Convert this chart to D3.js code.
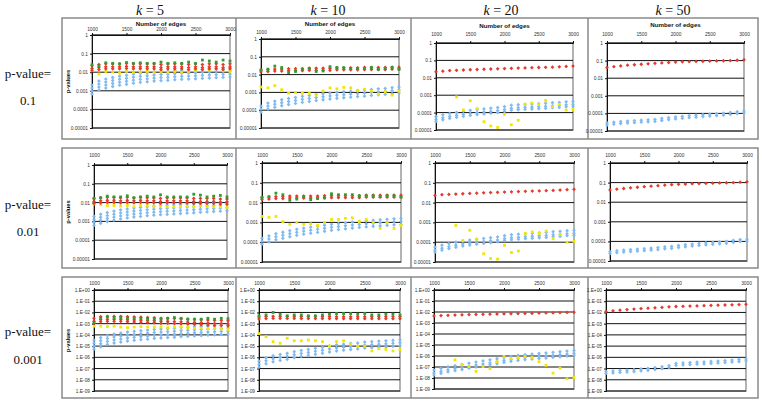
<!DOCTYPE html>
<html><head><meta charset="utf-8">
<script src="https://cdn.jsdelivr.net/npm/d3@7"></script>
<style>body{margin:0;background:#fff}</style>
</head><body><svg id="c" width="762" height="402"></svg>
<script>
// ---------- DATA ----------
const edges=[1000,1100,1200,1300,1400,1500,1600,1700,1800,1900,2000,2100,2200,2300,2400,2500,2600,2700,2800,2900,3000];
const kValues=["5","10","20","50"];
const pValues=["0.1","0.01","0.001"];
const xTickValues=[1000,1500,2000,2500,3000];
const yTickLabelsA=["1","0.1","0.01","0.001","0.0001","0.00001"];
const yTickLabelsB=["1.E+00","1.E-01","1.E-02","1.E-03","1.E-04","1.E-05","1.E-06","1.E-07","1.E-08","1.E-09"];
const xTitle="Number of edges";
const yTitle="p-values";

// p-value = 0.1
const g01_k5=[0.025,0.022,0.032,0.03,0.028,0.033,0.03,0.032,0.03,0.03,0.035,0.03,0.032,0.03,0.035,0.03,0.045,0.04,0.035,0.045,0.04];
const r01_k5=[0.018,0.02,0.022,0.022,0.022,0.023,0.022,0.022,0.022,0.022,0.02,0.022,0.022,0.022,0.02,0.022,0.02,0.022,0.022,0.02,0.022];
const y01_k5=[0.012,0.008,0.011,0.01,0.009,0.011,0.01,0.01,0.011,0.01,0.011,0.01,0.011,0.01,0.011,0.012,0.014,0.013,0.015,0.012,0.011];
const b01_k5=[0.0011,0.0018,0.0023,0.0028,0.0033,0.0037,0.0042,0.0047,0.005,0.0055,0.0058,0.006,0.0065,0.0068,0.007,0.0073,0.0077,0.008,0.0083,0.0087,0.009];
const g01_k10=[0.018,0.02,0.03,0.025,0.013,0.015,0.02,0.022,0.015,0.016,0.028,0.025,0.024,0.022,0.022,0.022,0.025,0.02,0.022,0.025,0.02];
const r01_k10=[0.016,0.017,0.018,0.018,0.019,0.019,0.019,0.02,0.02,0.02,0.02,0.021,0.021,0.021,0.021,0.022,0.022,0.022,0.022,0.023,0.023];
const y01_k10=[0.002,0.0018,0.0024,0.0014,0.0009,0.001,0.0009,0.0009,0.0007,0.0012,0.0018,0.0016,0.0019,0.0018,0.0013,0.0015,0.0012,0.0008,0.0011,0.0007,0.0012];
const b01_k10=[0.0001,0.00015,0.00019,0.00023,0.00027,0.00031,0.00036,0.0004,0.00045,0.0005,0.00055,0.0006,0.00065,0.0007,0.00075,0.0008,0.00088,0.00095,0.001,0.0011,0.0012];
const g01_k20=[];
const r01_k20=[0.022,0.024,0.026,0.027,0.028,0.029,0.03,0.031,0.032,0.033,0.034,0.035,0.036,0.037,0.038,0.039,0.04,0.041,0.043,0.045,0.047];
const y01_k20=[null,null,null,0.0008,0.00014,0.00048,0.00017,0.00003,0.000017,0.000014,0.00008,0.00002,0.000036,0.0003,0.00035,0.0003,0.0005,0.00022,0.0003,0.00014,0.00015];
const b01_k20=[0.00004,0.00005,0.00006,0.00007,0.00008,0.00009,0.0001,0.00011,0.00012,0.00013,0.00015,0.00018,0.00019,0.0002,0.00021,0.00022,0.00023,0.00025,0.00026,0.00028,0.0003];
const g01_k50=[];
const r01_k50=[0.04,0.045,0.05,0.055,0.058,0.062,0.066,0.07,0.074,0.078,0.082,0.086,0.088,0.09,0.092,0.094,0.096,0.098,0.1,0.105,0.11];
const y01_k50=[];
const b01_k50=[0.000025,0.000028,0.00003,0.000032,0.000034,0.000036,0.000038,0.00004,0.000045,0.00005,0.000055,0.00006,0.000065,0.00007,0.000075,0.00008,0.000085,0.00009,0.0001,0.00011,0.00012];

// p-value = 0.01
const g001_k5=[0.017,0.018,0.022,0.02,0.02,0.023,0.018,0.02,0.022,0.02,0.026,0.02,0.02,0.02,0.02,0.028,0.025,0.02,0.022,0.024,0.02];
const r001_k5=[0.013,0.014,0.015,0.015,0.014,0.015,0.014,0.015,0.014,0.014,0.013,0.014,0.014,0.014,0.014,0.013,0.013,0.013,0.013,0.012,0.012];
const y001_k5=[0.0085,0.008,0.007,0.007,0.0065,0.007,0.006,0.007,0.007,0.006,0.0065,0.006,0.006,0.006,0.0065,0.006,0.007,0.0065,0.006,0.006,0.0055];
const b001_k5=[0.001,0.0013,0.0016,0.0019,0.0022,0.0025,0.0028,0.003,0.0033,0.0035,0.0037,0.0039,0.0041,0.0043,0.0045,0.0047,0.005,0.0052,0.0055,0.0057,0.006];
const g001_k10=[0.018,0.02,0.03,0.025,0.013,0.015,0.02,0.014,0.016,0.017,0.028,0.025,0.025,0.025,0.022,0.022,0.022,0.02,0.022,0.022,0.019];
const r001_k10=[0.016,0.017,0.018,0.018,0.019,0.019,0.019,0.019,0.019,0.02,0.02,0.02,0.02,0.02,0.02,0.021,0.021,0.021,0.021,0.021,0.021];
const y001_k10=[0.002,0.0018,0.002,0.0011,0.0008,0.001,0.0008,0.00085,0.0007,0.001,0.0014,0.0014,0.0016,0.0017,0.0011,0.0014,0.001,0.0005,0.001,0.0005,0.0007];
const b001_k10=[0.0001,0.00013,0.00017,0.0002,0.00024,0.00028,0.00032,0.00036,0.0004,0.00045,0.0005,0.00055,0.0006,0.00065,0.0007,0.00075,0.0008,0.00085,0.0009,0.00095,0.001];
const g001_k20=[];
const r001_k20=[0.023,0.025,0.026,0.027,0.028,0.029,0.03,0.031,0.032,0.033,0.034,0.035,0.036,0.037,0.038,0.039,0.04,0.041,0.043,0.045,0.047];
const y001_k20=[null,null,null,0.0007,0.00012,0.0004,0.00014,0.000026,0.000015,0.000014,0.00007,0.00003,0.000036,0.00028,0.00033,0.00028,0.00037,0.00015,0.00025,0.0001,0.00011];
const b001_k20=[0.00004,0.00005,0.00006,0.00007,0.00008,0.00009,0.0001,0.00011,0.00012,0.00013,0.00015,0.00017,0.00018,0.00019,0.0002,0.00021,0.00022,0.00024,0.00025,0.00027,0.00028];
const g001_k50=[];
const r001_k50=[0.042,0.046,0.05,0.054,0.058,0.062,0.066,0.07,0.074,0.078,0.082,0.085,0.088,0.09,0.092,0.094,0.096,0.098,0.1,0.105,0.11];
const y001_k50=[];
const b001_k50=[0.000027,0.00003,0.000032,0.000034,0.000036,0.000038,0.00004,0.000043,0.000047,0.00005,0.000055,0.00006,0.000065,0.00007,0.000075,0.00008,0.000085,0.00009,0.0001,0.00011,0.000115];

// p-value = 0.001
const g0001_k5=[0.0013,0.003,0.004,0.0035,0.0035,0.003,0.003,0.003,0.0025,0.0025,0.0025,0.003,0.0035,0.003,0.0025,0.0025,0.0025,0.003,0.0025,0.003,0.0028];
const r0001_k5=[0.002,0.0028,0.003,0.003,0.003,0.0028,0.0026,0.0025,0.0023,0.0022,0.002,0.002,0.0019,0.0018,0.0017,0.0016,0.0015,0.0014,0.0013,0.0013,0.0012];
const y0001_k5=[0.0006,0.0006,0.00055,0.0006,0.0005,0.00045,0.0005,0.00055,0.0005,0.0005,0.0005,0.00045,0.0005,0.0005,0.00045,0.0004,0.0004,0.00035,0.0004,0.00035,0.0003];
const b0001_k5=[0.000012,0.00002,0.000032,0.000042,0.000052,0.000065,0.000075,0.000085,0.000095,0.00011,0.00012,0.00013,0.00014,0.00016,0.00017,0.00019,0.0002,0.00022,0.00023,0.00025,0.00027];
const g0001_k10=[0.005,0.006,0.01,0.007,0.005,0.006,0.006,0.005,0.005,0.006,0.007,0.008,0.008,0.008,0.007,0.008,0.006,0.006,0.007,0.007,0.006];
const r0001_k10=[0.0032,0.0035,0.0037,0.0037,0.0036,0.0036,0.0035,0.0035,0.0035,0.0035,0.0035,0.0034,0.0034,0.0034,0.0034,0.0034,0.0034,0.0034,0.0034,0.0034,0.0034];
const y0001_k10=[0.00013,0.00007,0.000025,0.000018,0.00005,0.00003,0.00003,0.000035,0.00003,0.000025,0.00001,0.000025,0.00003,0.000015,0.00001,0.00001,0.0000037,0.000006,0.000005,0.0000037,0.000005];
const b0001_k10=[2e-7,4e-7,6e-7,8e-7,1e-6,1.4e-6,1.8e-6,2.2e-6,2.8e-6,3.5e-6,4.5e-6,5.5e-6,6.5e-6,7.5e-6,8.5e-6,1e-5,1.1e-5,1.2e-5,1.3e-5,1.45e-5,1.6e-5];
const g0001_k20=[];
const r0001_k20=[0.0044,0.0047,0.005,0.0052,0.0055,0.0058,0.006,0.0062,0.0064,0.0066,0.0068,0.007,0.0072,0.0074,0.0077,0.008,0.0082,0.0085,0.0088,0.0092,0.0095];
const y0001_k20=[null,null,null,4.5e-7,1.6e-7,1.1e-7,4e-8,1.1e-7,7e-8,3e-7,9e-7,6e-7,7e-7,9e-7,7e-7,3e-7,1.4e-7,2.8e-8,8e-8,8.5e-9,1.1e-8];
const b0001_k20=[2.8e-8,4e-8,5.5e-8,7e-8,9e-8,1.2e-7,1.5e-7,1.9e-7,2.4e-7,3e-7,4e-7,5e-7,6e-7,7e-7,8e-7,9e-7,1e-6,1.15e-6,1.3e-6,1.5e-6,1.7e-6];
const g0001_k50=[];
const r0001_k50=[0.012,0.014,0.016,0.018,0.02,0.022,0.024,0.026,0.028,0.032,0.034,0.035,0.037,0.038,0.04,0.042,0.044,0.046,0.048,0.05,0.053];
const y0001_k50=[];
const b0001_k50=[4.5e-8,5e-8,5.5e-8,6e-8,6.5e-8,7.5e-8,8.5e-8,1e-7,1.2e-7,1.5e-7,2.4e-7,2.6e-7,2.8e-7,3e-7,3.2e-7,3.5e-7,3.8e-7,4.2e-7,4.6e-7,5.2e-7,5.9e-7];

// table built from the arrays: rows = p-values, cols = k
const panels=[
 [[g01_k5,r01_k5,y01_k5,b01_k5],[g01_k10,r01_k10,y01_k10,b01_k10],[g01_k20,r01_k20,y01_k20,b01_k20],[g01_k50,r01_k50,y01_k50,b01_k50]],
 [[g001_k5,r001_k5,y001_k5,b001_k5],[g001_k10,r001_k10,y001_k10,b001_k10],[g001_k20,r001_k20,y001_k20,b001_k20],[g001_k50,r001_k50,y001_k50,b001_k50]],
 [[g0001_k5,r0001_k5,y0001_k5,b0001_k5],[g0001_k10,r0001_k10,y0001_k10,b0001_k10],[g0001_k20,r0001_k20,y0001_k20,b0001_k20],[g0001_k50,r0001_k50,y0001_k50,b0001_k50]]
];

// ---------- LAYOUT ----------
const geo=[
 [{l:92,r:230,t:35,b:128},{l:261,r:399,t:39,b:128},{l:436,r:573,t:43,b:130},{l:607,r:744,t:43,b:131}],
 [{l:94,r:227,t:165,b:259},{l:262,r:401,t:163,b:262},{l:435,r:574,t:163,b:262},{l:610,r:747,t:163,b:261}],
 [{l:94,r:228,t:290,b:391},{l:259,r:400,t:290,b:391},{l:434,r:574,t:290,b:389},{l:606,r:746,t:290,b:391}]
];
const tickBase=[[31,34,36,36],[157,157,157,157],[285,285,285,285]];
const titleBase=[26,26,28,27];
const rowBox=[[18,139],[148,268],[277,398]];
const colSep=[236,411,588];
const colCenter=[150,328,501,673];
const rowLab=[[78,105],[209,236],[336,364]];

const svg=d3.select("#c");
svg.append("rect").attr("width",762).attr("height",402).attr("fill","#fff");
const sans="'Liberation Sans', Arial, sans-serif";
const serif="'Liberation Serif', 'DejaVu Serif', serif";

// column headers
kValues.forEach((k,i)=>{
  const t=svg.append("text").attr("x",colCenter[i]).attr("y",15).attr("text-anchor","middle")
    .attr("font-family",serif).attr("font-size",14).attr("fill","#111");
  t.append("tspan").attr("font-style","italic").text("k");
  t.append("tspan").text(" = "+k);
});
// row labels
pValues.forEach((p,i)=>{
  svg.append("text").attr("x",28).attr("y",rowLab[i][0]).attr("text-anchor","middle")
    .attr("font-family",serif).attr("font-size",13).attr("fill","#111").text("p-value=");
  svg.append("text").attr("x",28).attr("y",rowLab[i][1]).attr("text-anchor","middle")
    .attr("font-family",serif).attr("font-size",13).attr("fill","#111").text(p);
});
// frames
rowBox.forEach(([t,b])=>{
  svg.append("rect").attr("x",62).attr("y",t).attr("width",696).attr("height",b-t)
    .attr("fill","none").attr("stroke","#8a8a8a").attr("stroke-width",1.5);
  colSep.forEach(x=>svg.append("line").attr("x1",x).attr("x2",x).attr("y1",t).attr("y2",b)
    .attr("stroke","#8a8a8a").attr("stroke-width",1.5));
});

const colors={g:"#2e9e2e",r:"#e53a2c",y:"#f2e600",b:"#80baf0"};
const blueOffsets=[[-5,-2,1,4],[-4,-1,2],[-3,0,2],[-1,1]];
const redOffsets=[[-2,1,3],[-1,1],[0],[0]];
const diamond=(s)=>`M0,${-s}L${s},0L0,${s}L${-s},0Z`;

panels.forEach((row,ri)=>row.forEach((ser,ci)=>{
  const G=geo[ri][ci];
  const labels= ri===2? yTickLabelsB : yTickLabelsA;
  const yVals=labels.map(s=>+s);
  const x=d3.scaleLinear([1000,3000],[G.l,G.r]);
  const y=d3.scaleLog([d3.min(yVals),1],[G.b,G.t]);
  const g=svg.append("g");
  // plot area
  g.append("rect").attr("x",G.l).attr("y",G.t).attr("width",G.r-G.l).attr("height",G.b-G.t)
    .attr("fill","#fff").attr("stroke","#9a9a9a").attr("stroke-width",1.5);
  // grid
  g.selectAll(".gl").data(yVals).join("line")
    .attr("x1",G.l).attr("x2",G.r).attr("y1",d=>y(d)).attr("y2",d=>y(d))
    .attr("stroke","#111").attr("stroke-width",1);
  // top axis
  const ax=g.append("g").attr("transform",`translate(0,${G.t})`)
    .call(d3.axisTop(x).tickValues(xTickValues).tickSize(2).tickPadding(1).tickFormat(d3.format("d")));
  ax.select(".domain").attr("stroke","#111");
  ax.selectAll(".tick line").attr("stroke","#111");
  ax.selectAll("text").attr("font-family",sans).attr("font-size",4.8).attr("fill","#333")
    .attr("y",tickBase[ri][ci]-G.t).attr("dy",0);
  // left axis
  const ay=g.append("g").attr("transform",`translate(${G.l},0)`)
    .call(d3.axisLeft(y).tickValues(yVals).tickSize(2).tickPadding(2).tickFormat((d,i)=>labels[i]));
  ay.select(".domain").attr("stroke","#111");
  ay.selectAll(".tick line").attr("stroke","#111");
  ay.selectAll("text").attr("font-family",sans).attr("font-size",4.8).attr("fill","#333");
  if(ri===0){
    g.append("text").attr("x",(G.l+G.r)/2).attr("y",titleBase[ci]).attr("text-anchor","middle")
      .attr("font-family",sans).attr("font-weight","bold").attr("font-size",6.2).attr("fill","#111").text(xTitle);
  }
  if(ci===0){
    g.append("text").attr("transform",`translate(70,${(G.t+G.b)/2}) rotate(-90)`).attr("text-anchor","middle")
      .attr("font-family",sans).attr("font-weight","bold").attr("font-size",5.8).attr("fill","#111").text(yTitle);
  }
  const [gv,rv,yv,bv]=ser;
  const pts=a=>a.map((v,i)=>({x:edges[i],v})).filter(d=>d.v!=null);
  // blue
  const bp=pts(bv);
  blueOffsets[ci].forEach(off=>{
    g.selectAll(null).data(bp).join("path")
      .attr("transform",d=>`translate(${x(d.x)},${y(d.v)+off})`)
      .attr("d",diamond(1.9)).attr("fill",colors.b);
  });
  // yellow
  g.selectAll(null).data(pts(yv)).join("rect")
    .attr("x",d=>x(d.x)-1.4).attr("y",d=>y(d.v)-1.4).attr("width",2.8).attr("height",2.8).attr("fill",colors.y);
  // red
  const rp=pts(rv);
  redOffsets[ci].forEach(off=>{
    g.selectAll(null).data(rp).join("path")
      .attr("transform",d=>`translate(${x(d.x)},${y(d.v)+off})`)
      .attr("d",diamond(1.9)).attr("fill",colors.r);
  });
  // green
  g.selectAll(null).data(pts(gv)).join("rect")
    .attr("x",d=>x(d.x)-1.4).attr("y",d=>y(d.v)-1.4).attr("width",2.8).attr("height",2.8).attr("fill",colors.g);
}));
</script></body></html>
